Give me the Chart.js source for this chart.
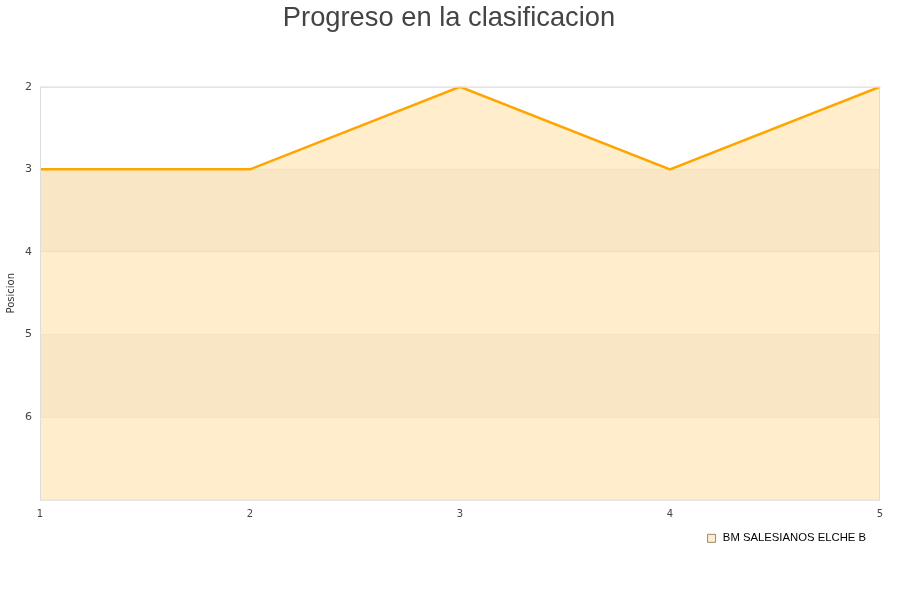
<!DOCTYPE html>
<html>
<head>
<meta charset="utf-8">
<script src="https://cdn.jsdelivr.net/npm/chart.js@4"></script>
<style>
  html, body { margin: 0; padding: 0; background: #fff; }
  #wrap { width: 900px; height: 600px; }
</style>
</head>
<body>
<div id="wrap"><canvas id="chart" width="900" height="600"></canvas></div>
<script>
// Datos del gráfico
const jornadas = [1, 2, 3, 4, 5];
const posiciones = [3, 3, 2, 3, 2];
const equipo = 'BM SALESIANOS ELCHE B';
const posMin = 2;
const posMax = 7;

// Bandas alternas, borde del área y ajuste de la leyenda
const bandas = {
    id: 'bandas',
    afterLayout(chart) {
        // la leyenda termina un poco antes del borde derecho del gráfico
        chart.legend.right = chart.chartArea.right - 11;
    },
    beforeDatasetsDraw(chart) {
        const { ctx, chartArea, scales } = chart;
        const y = scales.y;
        ctx.save();
        ctx.fillStyle = 'rgba(0,0,0,0.035)';
        for (let v = posMin + 1; v < posMax; v += 2) {
            const top = y.getPixelForValue(v);
            const bottom = y.getPixelForValue(v + 1);
            ctx.fillRect(chartArea.left, top, chartArea.right - chartArea.left, bottom - top);
        }
        ctx.restore();
    },
    afterDraw(chart) {
        const { ctx, chartArea } = chart;
        ctx.save();
        ctx.strokeStyle = '#dcdcdc';
        ctx.lineWidth = 1;
        ctx.strokeRect(chartArea.left + 0.5, chartArea.top + 0.5,
            chartArea.right - chartArea.left - 1, chartArea.bottom - chartArea.top);
        ctx.restore();
    }
};

const ctx = document.getElementById('chart').getContext('2d');
const chart = new Chart(ctx, {
    type: 'line',
    data: {
        labels: jornadas,
        datasets: [{
            label: equipo,
            data: posiciones,
            borderColor: '#FFA500',
            backgroundColor: 'rgba(255,165,0,0.2)',
            borderWidth: 2.5,
            pointRadius: 0,
            tension: 0,
            fill: { value: posMax }
        }]
    },
    plugins: [bandas],
    options: {
        responsive: false,
        animation: false,
        layout: { padding: { left: 5, right: 7, top: 0, bottom: 46 } },
        plugins: {
            title: {
                display: true,
                text: 'Progreso en la clasificacion',
                color: '#444',
                font: { family: 'Liberation Sans', size: 27.3, weight: 'normal' },
                padding: { top: 2, bottom: 52 }
            },
            legend: {
                position: 'bottom',
                align: 'end',
                labels: {
                    color: '#000',
                    font: { family: 'Liberation Sans', size: 11.3 },
                    usePointStyle: true,
                    boxWidth: 12,
                    boxHeight: 8,
                    padding: 3,
                    generateLabels: (c) => [{
                        text: equipo,
                        fillStyle: '#FFEDCC',
                        strokeStyle: '#9a8a70',
                        lineWidth: 1,
                        pointStyle: 'rect',
                        datasetIndex: 0
                    }]
                }
            },
            tooltip: { enabled: false }
        },
        scales: {
            x: {
                grid: { display: false, drawTicks: false },
                border: { display: false },
                ticks: {
                    color: '#444',
                    font: { family: 'DejaVu Sans', size: 10 },
                    maxRotation: 0,
                    padding: 9
                },
                afterFit(scale) {
                    scale.paddingRight = 20;
                }
            },
            y: {
                reverse: true,
                min: posMin,
                max: posMax,
                grid: { color: 'rgba(0,0,0,0.05)', drawTicks: false },
                border: { display: false },
                title: {
                    display: true,
                    text: 'Posicion',
                    color: '#333',
                    font: { family: 'DejaVu Sans', size: 10 },
                    padding: 0
                },
                ticks: {
                    stepSize: 1,
                    color: '#444',
                    font: { family: 'DejaVu Sans', size: 11 },
                    padding: 8,
                    callback: (v) => (v === posMax ? '' : v)
                }
            }
        }
    }
});
</script>
</body>
</html>
